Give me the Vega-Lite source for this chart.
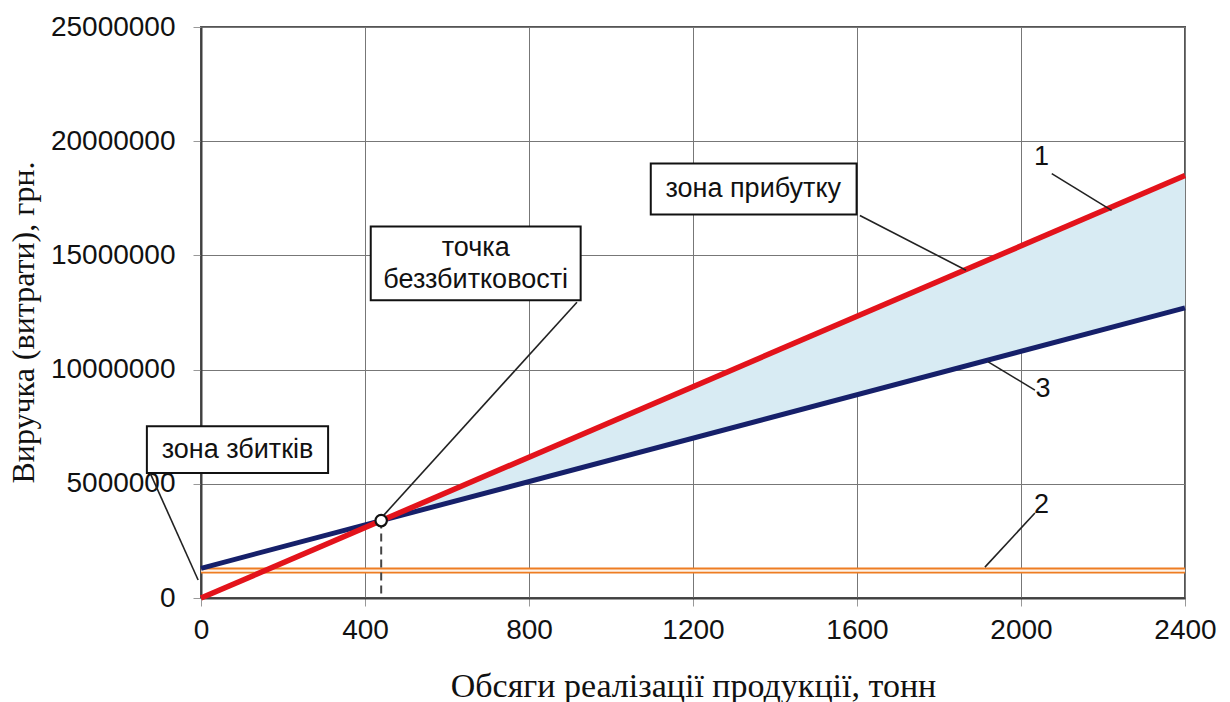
{
  "$schema": "https://vega.github.io/schema/vega-lite/v6.json",
  "width": 984,
  "height": 571,
  "autosize": {"type": "none"},
  "padding": {"left": 201, "top": 27, "right": 45, "bottom": 104},
  "background": "white",
  "config": {
    "view": {"stroke": "#555555", "strokeWidth": 2},
    "axis": {
      "labelFont": "Liberation Sans",
      "labelFontSize": 28,
      "labelColor": "#111111",
      "titleFont": "Liberation Serif",
      "titleFontSize": 32,
      "titleFontWeight": "normal",
      "titleColor": "#111111",
      "gridColor": "#777777",
      "gridWidth": 1,
      "gridOpacity": 1,
      "domainColor": "#404040",
      "domainWidth": 2,
      "tickColor": "#999999",
      "tickSize": 8,
      "tickWidth": 1
    }
  },
  "datasets": {
    "revenue": [{"x": 0, "y": 0}, {"x": 2400, "y": 18500000}],
    "cost": [{"x": 0, "y": 1300000}, {"x": 2400, "y": 12700000}],
    "fixed": [{"x": 0, "y": 1200000}, {"x": 2400, "y": 1200000}],
    "profit": [{"x": 439.5, "lo": 3388000, "hi": 3388000}, {"x": 2400, "lo": 12700000, "hi": 18500000}],
    "be": [{"x": 439.5, "y": 3388000, "y0": 0}],
    "leaders": [
      {"x": -124, "y": 5470000, "x2": -7, "y2": 790000},
      {"x": 917, "y": 12950000, "x2": 446, "y2": 3630000},
      {"x": 1607, "y": 16750000, "x2": 1866, "y2": 14350000},
      {"x": 2075, "y": 18580000, "x2": 2221, "y2": 16970000},
      {"x": 2034, "y": 9100000, "x2": 1920, "y2": 10340000},
      {"x": 2034, "y": 3720000, "x2": 1912, "y2": 1350000}
    ],
    "boxes": [
      {"x": -132, "x2": 310, "y": 7520000, "y2": 5470000},
      {"x": 414, "x2": 926, "y": 16270000, "y2": 13040000},
      {"x": 1097, "x2": 1599, "y": 19020000, "y2": 16790000}
    ],
    "labels": [
      {"x": 89, "y": 6500000, "text": "зона збитків"},
      {"x": 670, "y": 15310000, "text": ["точка", "беззбитковості"]},
      {"x": 1347, "y": 17890000, "text": "зона прибутку"},
      {"x": 2050, "y": 19310000, "text": "1"},
      {"x": 2054, "y": 9170000, "text": "3"},
      {"x": 2050, "y": 4070000, "text": "2"}
    ]
  },
  "layer": [
    {
      "data": {"name": "profit"},
      "mark": {"type": "area", "color": "#d8ebf3", "opacity": 1},
      "encoding": {
        "x": {
          "field": "x", "type": "quantitative",
          "scale": {"domain": [0, 2400], "nice": false, "zero": false},
          "axis": {"values": [0, 400, 800, 1200, 1600, 2000, 2400], "format": "d", "title": "Обсяги реалізації продукції,  тонн", "titleFontSize": 34, "labelPadding": 10, "titlePadding": 25, "labelFlush": false}
        },
        "y": {
          "field": "lo", "type": "quantitative",
          "scale": {"domain": [0, 25000000], "nice": false},
          "axis": {"values": [0, 5000000, 10000000, 15000000, 20000000, 25000000], "format": "d", "title": "Виручка (витрати), грн.", "titleY": 295, "labelPadding": 18, "titlePadding": 10, "labelFlush": false}
        },
        "y2": {"field": "hi"}
      }
    },
    {
      "data": {"name": "fixed"},
      "mark": {"type": "line", "color": "#ee7d22", "strokeWidth": 6},
      "encoding": {
        "x": {"field": "x", "type": "quantitative"},
        "y": {"field": "y", "type": "quantitative"}
      }
    },
    {
      "data": {"name": "fixed"},
      "mark": {"type": "line", "color": "#fdf3ea", "strokeWidth": 2.2},
      "encoding": {
        "x": {"field": "x", "type": "quantitative"},
        "y": {"field": "y", "type": "quantitative"}
      }
    },
    {
      "data": {"name": "cost"},
      "mark": {"type": "line", "color": "#16206a", "strokeWidth": 5},
      "encoding": {
        "x": {"field": "x", "type": "quantitative"},
        "y": {"field": "y", "type": "quantitative"}
      }
    },
    {
      "data": {"name": "revenue"},
      "mark": {"type": "line", "color": "#e3131b", "strokeWidth": 5.5},
      "encoding": {
        "x": {"field": "x", "type": "quantitative"},
        "y": {"field": "y", "type": "quantitative"}
      }
    },
    {
      "data": {"name": "be"},
      "mark": {"type": "rule", "color": "#444444", "strokeWidth": 2, "strokeDash": [8, 5]},
      "encoding": {
        "x": {"field": "x", "type": "quantitative"},
        "y": {"field": "y", "type": "quantitative"},
        "y2": {"field": "y0"}
      }
    },
    {
      "data": {"name": "leaders"},
      "mark": {"type": "rule", "color": "#222222", "strokeWidth": 1.6},
      "encoding": {
        "x": {"field": "x", "type": "quantitative"},
        "y": {"field": "y", "type": "quantitative"},
        "x2": {"field": "x2"},
        "y2": {"field": "y2"}
      }
    },
    {
      "data": {"name": "be"},
      "mark": {"type": "point", "shape": "circle", "filled": true, "fill": "white", "stroke": "#111111", "strokeWidth": 2.2, "size": 130, "opacity": 1},
      "encoding": {
        "x": {"field": "x", "type": "quantitative"},
        "y": {"field": "y", "type": "quantitative"}
      }
    },
    {
      "data": {"name": "boxes"},
      "mark": {"type": "rect", "fill": "white", "stroke": "#111111", "strokeWidth": 2},
      "encoding": {
        "x": {"field": "x", "type": "quantitative"},
        "x2": {"field": "x2"},
        "y": {"field": "y", "type": "quantitative"},
        "y2": {"field": "y2"}
      }
    },
    {
      "data": {"name": "labels"},
      "mark": {"type": "text", "font": "Liberation Sans", "fontSize": 27, "color": "#111111", "align": "center", "baseline": "middle", "lineHeight": 32},
      "encoding": {
        "x": {"field": "x", "type": "quantitative"},
        "y": {"field": "y", "type": "quantitative"},
        "text": {"field": "text"}
      }
    }
  ]
}
